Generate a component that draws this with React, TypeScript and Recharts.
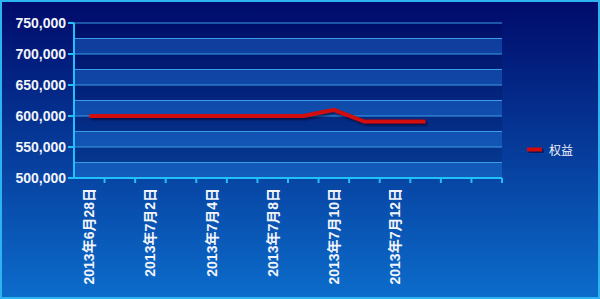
import React from "react";
import { LineChart, Line, XAxis, YAxis, CartesianGrid, Legend } from "recharts";

const dates = [
  "2013年6月28日",
  "2013年7月1日",
  "2013年7月2日",
  "2013年7月3日",
  "2013年7月4日",
  "2013年7月5日",
  "2013年7月8日",
  "2013年7月9日",
  "2013年7月10日",
  "2013年7月11日",
  "2013年7月12日",
  "2013年7月15日",
  "",
  "",
];

const equity: (number | null)[] = [
  600000, 600000, 600000, 600000, 600000, 600000, 600000, 600000,
  610000, 591000, 591000, 591000, null, null,
];

const yTicks = [500000, 550000, 600000, 650000, 700000, 750000];
const gridValues = [
  500000, 525000, 550000, 575000, 600000, 625000, 650000, 675000, 700000, 725000, 750000,
];

const data = dates.map((d, i) => ({ date: d, equity: equity[i] }));

const AXIS = "#22c0f8";
const GRID = "#3a9ce6";
const RED = "#d20a0a";
const WIDTH = 600;
const HEIGHT = 299;
const MARGIN = { top: 23, right: 98, left: 0, bottom: 0 };
const Y_AXIS_W = 74;
// half a category slot, so points sit in the middle of each slot like the original
const PLOT_W = WIDTH - MARGIN.right - Y_AXIS_W;
const HALF_SLOT = PLOT_W / dates.length / 2;

const DateTick = (props: any) => {
  const { x, y, payload, index } = props;
  const label = index % 2 === 0 ? payload.value : "";
  return (
    <g>
      <line x1={x + HALF_SLOT} x2={x + HALF_SLOT} y1={y} y2={y + 5} stroke={AXIS} strokeWidth={2} />
      {label && (
        <text
          x={x}
          y={y + 10}
          transform={`rotate(-90 ${x} ${y + 10})`}
          textAnchor="end"
          dy="0.36em"
          fill="#f2f4fa"
          fontSize={14}
          fontWeight="bold"
          fontFamily="'Liberation Sans', Arial, 'Noto Sans CJK SC', sans-serif"
        >
          {label}
        </text>
      )}
    </g>
  );
};

const LegendBox = () => (
  <div style={{ display: "flex", alignItems: "center" }}>
    <svg width={16} height={8} style={{ overflow: "visible" }}>
      <rect x={1.5} y={3} width={15} height={4} fill="#000022" opacity={0.5} />
      <rect x={0} y={1.5} width={15} height={4} fill={RED} />
    </svg>
    <span
      style={{
        marginLeft: 6,
        color: "#f0f2f8",
        fontSize: 12,
        fontFamily: "'Noto Sans CJK SC', sans-serif",
        lineHeight: "14px",
      }}
    >
      权益
    </span>
  </div>
);

export default function App() {
  return (
    <div
      style={{
        position: "absolute",
        left: 0,
        top: 0,
        width: WIDTH,
        height: HEIGHT,
        background: "linear-gradient(180deg, #000a6a 0%, #063b9a 50%, #0c6dcc 100%)",
      }}
    >
      <LineChart width={WIDTH} height={HEIGHT} data={data} margin={MARGIN}>
        <defs>
          <filter id="lineShadow" x="-10%" y="-100%" width="120%" height="300%">
            <feDropShadow dx="1.5" dy="2" stdDeviation="1" floodColor="#000022" floodOpacity="0.6" />
          </filter>
        </defs>
        <CartesianGrid
          vertical={false}
          horizontalValues={gridValues}
          stroke={GRID}
          strokeWidth={1}
          horizontalFill={["rgba(0,0,40,0.12)", "rgba(42,144,240,0.32)"]}
          fillOpacity={1}
        />
        <XAxis
          dataKey="date"
          height={121}
          interval={0}
          padding={{ left: HALF_SLOT, right: HALF_SLOT }}
          tickSize={0}
          tickMargin={0}
          tickLine={false}
          axisLine={{ stroke: AXIS, strokeWidth: 2 }}
          tick={<DateTick />}
        />
        <YAxis
          width={Y_AXIS_W}
          domain={[500000, 750000]}
          ticks={yTicks}
          interval={0}
          tickSize={6}
          tickMargin={2}
          tickLine={{ stroke: AXIS, strokeWidth: 2 }}
          axisLine={{ stroke: AXIS, strokeWidth: 2 }}
          tickFormatter={(v: number) => v.toLocaleString("en-US")}
          tick={{
            fill: "#f2f4fa",
            fontSize: 14,
            fontWeight: "bold",
            fontFamily: "'Liberation Sans', Arial, sans-serif",
          }}
        />
        <Legend
          layout="vertical"
          align="center"
          verticalAlign="middle"
          wrapperStyle={{ left: 527 }}
          content={() => <LegendBox />}
        />
        <Line
          type="linear"
          dataKey="equity"
          name="权益"
          stroke={RED}
          strokeWidth={4}
          dot={false}
          activeDot={false}
          filter="url(#lineShadow)"
          isAnimationActive={false}
        />
      </LineChart>
      <div
        style={{
          position: "absolute",
          inset: 0,
          border: "2px solid #2cb4f0",
          pointerEvents: "none",
        }}
      />
    </div>
  );
}
